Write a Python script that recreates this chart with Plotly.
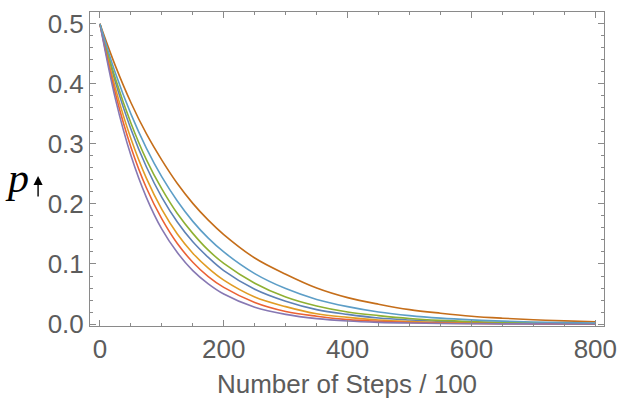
import plotly.graph_objects as go

# Steps (in units of 100) at which each run's p was recorded
steps = [0, 25, 50, 75, 100, 125, 150, 175, 200, 250, 300, 350, 400,
         450, 500, 550, 600, 650, 700, 750, 800]

# p for each run, drawn in this order
p_blue = [0.5, 0.403, 0.325, 0.262, 0.211, 0.170, 0.137, 0.111, 0.089, 0.058,
          0.038, 0.024, 0.016, 0.010, 0.0067, 0.0044, 0.0028, 0.0018, 0.0012,
          0.0008, 0.0005]
p_gold = [0.5, 0.393, 0.309, 0.243, 0.191, 0.150, 0.118, 0.093, 0.073, 0.045,
          0.029, 0.017, 0.011, 0.0066, 0.0041, 0.0025, 0.0016, 0.0010, 0.0006,
          0.0004, 0.0002]
p_green = [0.5, 0.409, 0.335, 0.274, 0.225, 0.184, 0.151, 0.123, 0.101, 0.068,
           0.045, 0.030, 0.020, 0.014, 0.0092, 0.0061, 0.0041, 0.0028, 0.0018,
           0.0012, 0.0008]
p_red = [0.5, 0.384, 0.295, 0.227, 0.175, 0.134, 0.103, 0.079, 0.061, 0.036,
         0.021, 0.013, 0.0074, 0.0044, 0.0026, 0.0015, 0.0009, 0.0005, 0.0003,
         0.0002, 0.0001]
p_purple = [0.5, 0.375, 0.281, 0.211, 0.158, 0.119, 0.089, 0.067, 0.050, 0.028,
            0.016, 0.0090, 0.0050, 0.0028, 0.0016, 0.0009, 0.0005, 0.0003,
            0.0002, 0.0001, 0.0]
p_orange = [0.5, 0.430, 0.369, 0.317, 0.273, 0.234, 0.201, 0.173, 0.149, 0.110,
            0.083, 0.060, 0.044, 0.033, 0.024, 0.018, 0.013, 0.0097, 0.0072,
            0.0053, 0.0039]
p_lightblue = [0.5, 0.418, 0.350, 0.293, 0.245, 0.205, 0.171, 0.143, 0.120,
               0.084, 0.059, 0.041, 0.029, 0.020, 0.014, 0.0098, 0.0069, 0.0048,
               0.0034, 0.0024, 0.0016]

runs = [p_blue, p_gold, p_green, p_red, p_purple, p_orange, p_lightblue]
colors = ["#5E81B5", "#E19C24", "#8FB032", "#EB6235", "#8778B3", "#C56E1A", "#5D9EC7"]

x_ticks = [0, 200, 400, 600, 800]
y_ticks = [0.0, 0.1, 0.2, 0.3, 0.4, 0.5]
y_tick_text = ["0.0", "0.1", "0.2", "0.3", "0.4", "0.5"]

fig = go.Figure()
for vals, col in zip(runs, colors):
    fig.add_trace(go.Scatter(
        x=steps, y=vals, mode="lines",
        line=dict(color=col, width=1.6, shape="spline", smoothing=1.0),
        showlegend=False, hoverinfo="skip",
    ))

frame = "#8a8a8a"
sans = "Liberation Sans, Arial, sans-serif"
label_font = dict(family=sans, size=26, color="#5c5c5c")

fig.update_xaxes(
    range=[-16, 814], tickvals=x_ticks, ticktext=[str(v) for v in x_ticks],
    ticks="inside", ticklen=6, tickcolor=frame, tickwidth=1,
    minor=dict(dtick=50, tick0=0, ticks="inside", ticklen=3, tickcolor=frame),
    showline=True, linecolor=frame, linewidth=1, mirror="ticks",
    showgrid=False, zeroline=False, tickfont=label_font,
    title=dict(text="Number of Steps / 100", standoff=11,
               font=dict(family=sans, size=26, color="#5c5c5c")),
)
fig.update_yaxes(
    range=[-0.0033, 0.5198], tickvals=y_ticks, ticktext=y_tick_text,
    ticks="inside", ticklen=6, tickcolor=frame, tickwidth=1,
    minor=dict(dtick=0.02, tick0=0, ticks="inside", ticklen=3, tickcolor=frame),
    showline=True, linecolor=frame, linewidth=1, mirror="ticks",
    showgrid=False, zeroline=False, tickfont=label_font,
)

# italic p with a small upward arrow as the vertical axis label
fig.add_annotation(
    text="<i>p</i>", xref="paper", yref="paper", x=-0.142, y=0.472,
    showarrow=False, xanchor="center", yanchor="middle",
    font=dict(family="Liberation Serif, Times New Roman, serif", size=42, color="black"),
)
fig.add_annotation(
    xref="paper", yref="paper", x=-0.101, y=0.478, ax=0, ay=22,
    text="", showarrow=True, arrowhead=2, arrowsize=1.3, arrowwidth=1.4,
    arrowcolor="black",
)

fig.update_layout(
    width=630, height=403,
    margin=dict(l=90, r=26, t=9, b=77),
    plot_bgcolor="white", paper_bgcolor="white",
)

fig.write_html("out.html")
